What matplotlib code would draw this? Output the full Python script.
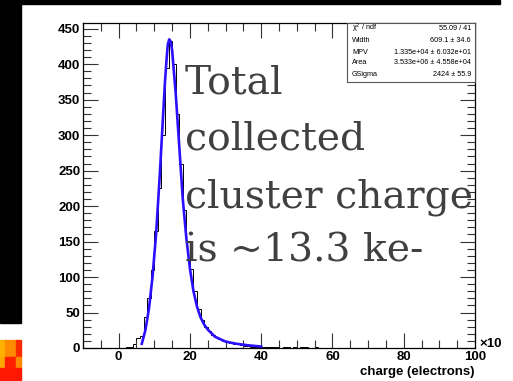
import matplotlib
matplotlib.use("Agg")
import matplotlib.pyplot as plt
import numpy as np
from matplotlib.patches import Rectangle
from matplotlib.ticker import MultipleLocator

# ---- data (x in units of 10^3 electrons) ----
bin_edges = list(range(0, 61))
counts = [0, 0, 1, 2, 5, 14, 17, 44, 70, 110,
          165, 225, 300, 395, 432, 400, 330, 260, 195, 150,
          112, 80, 55, 40, 30, 24, 19, 15, 12, 10,
          8, 7, 6, 5, 4, 3, 3, 2, 2, 2,
          1, 1, 2, 1, 1, 0, 1, 1, 0, 1,
          0, 1, 1, 0, 0, 1, 0, 0, 0, 0]

fit_x = [6.5, 7.5, 8.5, 9.5, 10.5, 11.5, 12.5, 13.0, 13.5, 13.8, 14.2, 14.6, 15.0,
         16, 17, 18, 19, 20, 21, 22, 23, 24, 25, 27, 30, 33, 36, 40]
fit_y = [6, 25, 55, 100, 160, 240, 330, 375, 410, 428, 435, 432, 420,
         360, 285, 210, 155, 112, 80, 58, 43, 33, 26, 16, 9, 6, 4, 2]

stat_names = ["χ$^2$ / ndf", "Width", "MPV", "Area", "GSigma"]
stat_values = ["55.09 / 41", "609.1 ± 34.6", "1.335e+04 ± 6.032e+01",
               "3.533e+06 ± 4.558e+04", "2424 ± 55.9"]

note_lines = ["Total", "collected", "cluster charge", "is ~13.3 ke-"]

W, H = 513, 381
fig = plt.figure(figsize=(W / 100, H / 100), dpi=100)
fig.patch.set_facecolor("white")

def fx(px):
    return px / W

def fy(py):
    return 1 - py / H

# decorations of the slide
fig.patches.append(Rectangle((0, fy(4.3)), fx(500), 4.3 / H, transform=fig.transFigure,
                             color="black", zorder=0))
fig.patches.append(Rectangle((0, fy(323)), fx(21), 323 / H, transform=fig.transFigure,
                             color="black", zorder=0))
for (x0, y0, w, h, c) in [(0, 340, 5, 17, "#ffb000"), (5, 340, 11, 17, "#ff8c00"),
                          (16, 340, 5, 17, "#ff2a00"), (0, 357, 5, 11, "#ffa800"),
                          (5, 357, 11, 11, "#ff2000"), (16, 357, 5, 11, "#ff8a00"),
                          (0, 368, 21, 13, "#ff1800")]:
    fig.patches.append(Rectangle((fx(x0), fy(y0 + h)), fx(w), h / H,
                                 transform=fig.transFigure, color=c, zorder=0))

left, right, top, bottom = 83, 475, 23, 348
ax = fig.add_axes([fx(left), fy(bottom), fx(right - left), (bottom - top) / H])
ax.set_xlim(-10, 100)
ax.set_ylim(0, 458)

ax.stairs(counts, bin_edges, color="black", lw=0.7)
ax.plot(fit_x, fit_y, color="#2a10ff", lw=1.9)

ax.xaxis.set_major_locator(MultipleLocator(20))
ax.xaxis.set_minor_locator(MultipleLocator(5))
ax.yaxis.set_major_locator(MultipleLocator(50))
ax.yaxis.set_minor_locator(MultipleLocator(10))
ax.tick_params(which="both", direction="in", top=True, right=True, color="#333333")
ax.tick_params(which="major", length=11, width=0.8)
ax.tick_params(which="minor", length=6, width=0.8)
ax.tick_params(axis="both", which="major", labelsize=9.5, pad=2)
for lab in ax.get_xticklabels() + ax.get_yticklabels():
    lab.set_fontweight("bold")
    lab.set_family("Liberation Sans")
for s in ax.spines.values():
    s.set_linewidth(0.9)

fig.text(fx(475), fy(372), "charge (electrons)", ha="right", va="center",
         fontsize=9.5, fontweight="bold", family="Liberation Sans")
fig.text(fx(479), fy(344), "×10", ha="left", va="center",
         fontsize=9.5, fontweight="bold", family="Liberation Sans")

# stats box
fig.patches.append(Rectangle((fx(347), fy(82)), fx(475 - 347), (82 - 23) / H,
                             transform=fig.transFigure, facecolor="white",
                             edgecolor="#555555", lw=0.8, zorder=5))
row_y = [28, 40, 52, 63, 75]
for name, val, y in zip(stat_names, stat_values, row_y):
    fig.text(fx(352), fy(y), name, ha="left", va="center", fontsize=5.2,
             family="Liberation Sans", zorder=6)
    fig.text(fx(471), fy(y), val, ha="right", va="center", fontsize=5.2,
             family="Liberation Sans", zorder=6)

# big overlay text
baselines = [93, 150, 207, 262]
for line, b in zip(note_lines, baselines):
    fig.text(fx(185), fy(b), line, ha="left", va="baseline", fontsize=28.3,
             family="DejaVu Serif", color="#404040", zorder=7)

fig.savefig("out.png", dpi=100)
